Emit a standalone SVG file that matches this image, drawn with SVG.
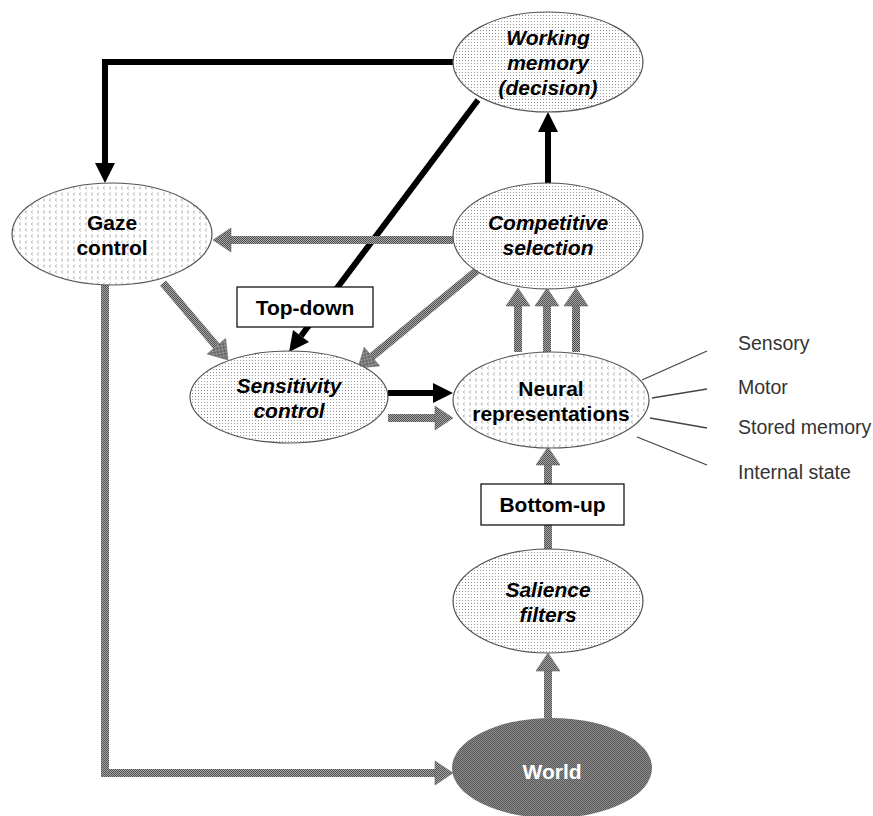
<svg xmlns="http://www.w3.org/2000/svg" width="873" height="816" viewBox="0 0 873 816">
<style>
.node{stroke:#555;stroke-width:1.2}
.dots{fill:url(#dots)}
.chev{fill:url(#chev)}
.t{font-family:"Liberation Sans",Arial,sans-serif;font-weight:bold;font-size:21px;text-anchor:middle;fill:#000}
.i{font-style:italic}
.blk{fill:none;stroke:#000;stroke-width:6;marker-end:url(#ab)}
.gry{fill:none;stroke:url(#chk);stroke-width:8;marker-end:url(#ag)}
.lbl{fill:#fff;stroke:#000;stroke-width:1.2}
.side{font-family:"Liberation Sans",Arial,sans-serif;font-size:19.5px;fill:#333}
.sl{stroke:#444;stroke-width:1.3}
</style>
<defs>
<pattern id="dots" width="3" height="3" patternUnits="userSpaceOnUse"><rect width="3" height="3" fill="#fff"/><rect width="1" height="1" fill="#999"/></pattern>
<pattern id="chev" width="6" height="6" patternUnits="userSpaceOnUse"><rect width="6" height="6" fill="#fff"/><path d="M3,0.5 L1,2 L3,3.5" fill="none" stroke="#aaa" stroke-width="0.8"/></pattern>
<pattern id="chk" width="2" height="2" patternUnits="userSpaceOnUse"><rect width="2" height="2" fill="#a8a8a8"/><rect width="1" height="1" fill="#505050"/><rect x="1" y="1" width="1" height="1" fill="#505050"/></pattern>
<pattern id="wchk" width="2" height="2" patternUnits="userSpaceOnUse"><rect width="2" height="2" fill="#8a8a8a"/><rect width="1" height="1" fill="#5a5a5a"/><rect x="1" y="1" width="1" height="1" fill="#5a5a5a"/></pattern>
<marker id="ab" markerUnits="userSpaceOnUse" markerWidth="20" markerHeight="20" refX="0" refY="10" orient="auto" overflow="visible"><path d="M0,0 L20,10 L0,20 z" fill="#000"/></marker>
<marker id="ag" markerUnits="userSpaceOnUse" markerWidth="18" markerHeight="24" refX="0" refY="12" orient="auto" overflow="visible"><path d="M0,0 L18,12 L0,24 z" fill="url(#chk)" stroke="#666" stroke-width="0.6"/></marker>
</defs>
<rect width="873" height="816" fill="#fff"/>

<g id="connectors">
<path class="blk" d="M455,62 H105 V163"/>
<path class="blk" d="M478,100 L301,336"/>
<path class="blk" d="M548,183 V132"/>
<path class="blk" d="M388,393 H433"/>
<path class="gry" d="M453,240 H231"/>
<path class="gry" d="M163,283 L216.4,346.2"/>
<path class="gry" d="M480,268 L371.9,356.6"/>
<path class="gry" d="M518,352 V306"/>
<path class="gry" d="M547,352 V306"/>
<path class="gry" d="M576,352 V306"/>
<path class="gry" d="M388,418 H435"/>
<path class="gry" d="M548,550 V465"/>
<path class="gry" d="M548,718 V671"/>
<path class="gry" d="M105,285 V773 H435" stroke-linejoin="miter"/>
<line class="sl" x1="642" y1="380" x2="707" y2="351"/>
<line class="sl" x1="652" y1="398" x2="707" y2="389"/>
<line class="sl" x1="650" y1="418" x2="707" y2="428"/>
<line class="sl" x1="637" y1="437" x2="707" y2="465"/>
</g>

<g id="working-memory">
<ellipse class="node dots" cx="548" cy="62" rx="95" ry="50"/>
<text class="t i" x="548" y="45">Working</text>
<text class="t i" x="548" y="70">memory</text>
<text class="t i" x="548" y="95">(decision)</text>
</g>
<g id="gaze-control">
<ellipse class="node chev" cx="112" cy="234" rx="100" ry="51"/>
<text class="t" x="112" y="230">Gaze</text>
<text class="t" x="112" y="255">control</text>
</g>
<g id="competitive-selection">
<ellipse class="node dots" cx="548" cy="236" rx="95" ry="53"/>
<text class="t i" x="548" y="230">Competitive</text>
<text class="t i" x="548" y="255">selection</text>
</g>
<g id="sensitivity-control">
<ellipse class="node dots" cx="289" cy="397" rx="99" ry="46"/>
<text class="t i" x="289" y="393">Sensitivity</text>
<text class="t i" x="289" y="418">control</text>
</g>
<g id="neural-representations">
<ellipse class="node chev" cx="551" cy="400" rx="98" ry="48"/>
<text class="t" x="551" y="396">Neural</text>
<text class="t" x="551" y="421">representations</text>
</g>
<g id="salience-filters">
<ellipse class="node dots" cx="548" cy="601" rx="95" ry="52"/>
<text class="t i" x="548" y="597">Salience</text>
<text class="t i" x="548" y="622">filters</text>
</g>
<g id="world">
<ellipse cx="552" cy="768" rx="100" ry="50" fill="url(#wchk)"/>
<text class="t" x="552" y="779" style="fill:#fff">World</text>
</g>

<g id="top-down">
<rect class="lbl" x="237" y="287" width="136" height="40"/>
<text class="t" x="305" y="315">Top-down</text>
</g>
<g id="bottom-up">
<rect class="lbl" x="481" y="484" width="143" height="41"/>
<text class="t" x="552.5" y="512">Bottom-up</text>
</g>

<g id="side-labels">
<text class="side" x="738" y="350">Sensory</text>
<text class="side" x="738" y="394">Motor</text>
<text class="side" x="738" y="434">Stored memory</text>
<text class="side" x="738" y="479">Internal state</text>
</g>
</svg>
